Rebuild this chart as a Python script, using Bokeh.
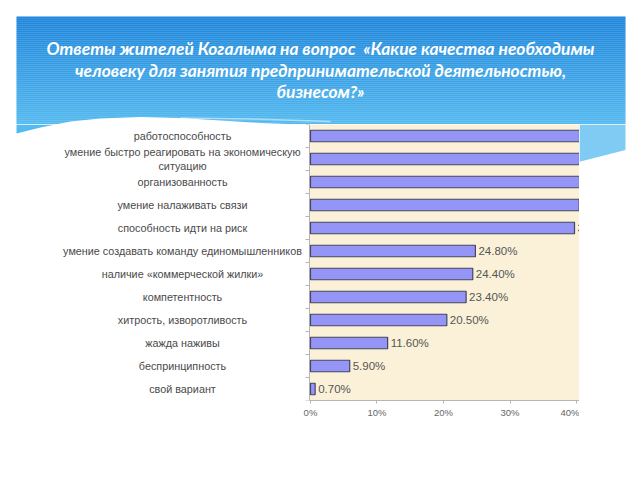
import numpy as np
from bokeh.plotting import figure
from bokeh.layouts import column, row
from bokeh.models import Range1d, FixedTicker
from bokeh.core.properties import value
from bokeh.embed import file_html
from bokeh.resources import INLINE

# ---- data ----
categories = [
    "работоспособность",
    "умение быстро реагировать на экономическую\nситуацию",
    "организованность",
    "умение налаживать связи",
    "способность идти на риск",
    "умение создавать команду единомышленников",
    "наличие «коммерческой жилки»",
    "компетентность",
    "хитрость, изворотливость",
    "жажда наживы",
    "беспринципность",
    "свой вариант",
]
values = [53.2, 45.8, 43.6, 40.4, 39.7, 24.8, 24.4, 23.4, 20.5, 11.6, 5.9, 0.7]
x_ticks = [0, 10, 20, 30, 40]
x_tick_labels = ["0%", "10%", "20%", "30%", "40%"]
title_lines = [
    "Ответы жителей Когалыма на вопрос\u00a0 «Какие качества необходимы",
    "человеку для занятия предпринимательской деятельностью,",
    "бизнесом?»",
]

n = len(categories)
ypos = [n - 1 - i + 0.5 for i in range(n)]

TOP = 124          # pixel row where the chart area starts
ROW_PX = 23        # pixel height of one category row
PX_PER_PCT = 6.65  # horizontal scale of the chart
X_END = 40.45      # the pasted chart picture is cut off here
X_START = -1.05    # a little room left of 0 for the axis ticks
AX_X = -0.15       # where the vertical axis line sits
LABEL_OFF = 3      # px gap between bar end and its value label


def bare(fig):
    fig.grid.visible = False
    fig.outline_line_color = None
    fig.background_fill_color = "white"
    fig.border_fill_color = "white"
    return fig


# ---- header ----
hdr = figure(width=640, height=TOP, x_range=Range1d(0, 640), y_range=Range1d(TOP, 0),
             output_backend="svg", toolbar_location=None, min_border=0,
             x_axis_location=None, y_axis_location=None)
bare(hdr)
top_c = np.array([30, 134, 219])
bot_c = np.array([84, 186, 240])
band_y = np.arange(16, TOP, 2)
cols = []
for yy in band_y:
    t = (yy - 16) / (TOP - 16)
    c = (top_c * (1 - t) + bot_c * t).astype(int)
    cols.append("#%02x%02x%02x" % tuple(c))
hdr.quad(left=16, right=625, top=band_y, bottom=band_y + 2.2, color=cols, line_color=None)
hdr.patch(x=[40, 40, 55, 70, 100, 140, 180, 220, 260, 300, 305, 305],
          y=[140, 127, 124, 121, 118, 116.5, 117.5, 120, 122.5, 124, 124, 140],
          color="white", line_color=None)
hdr.line(x=[180, 250, 330], y=[117.5, 118.5, 121], line_color="white", line_alpha=0.5, line_width=1.5)
hdr.text(x=[320] * len(title_lines), y=[48, 69.5, 91], text=title_lines,
         text_align="center", text_baseline="middle", text_color="white",
         text_font=value("Lato"), text_font_style="bold italic", text_font_size="17.4px")

yr = Range1d(0, n)


def py_to_y(py):
    return n - (np.asarray(py, dtype=float) - TOP) / ROW_PX


# ---- category labels ----
LAB_W = 303
lab = figure(width=LAB_W, height=356, x_range=Range1d(0, LAB_W), y_range=yr,
             output_backend="svg", toolbar_location=None,
             min_border_left=0, min_border_right=0, min_border_top=0, min_border_bottom=80,
             x_axis_location=None, y_axis_location=None)
bare(lab)
lab.patch(x=[16, 16, 28, 40, 55], y=py_to_y([TOP, 133, 130, 127, TOP]),
          color="#54BAF0", line_color=None)
lab.text(x=[182] * n, y=ypos, text=categories, text_align="center", text_baseline="middle",
         text_color="#4a4a4a", text_font=value("Liberation Sans"), text_font_size="10.8px",
         text_line_height=1.15)

# ---- chart ----
ch_w = int(round((X_END - X_START) * PX_PER_PCT))
ch = figure(width=ch_w, height=356, x_range=Range1d(X_START, X_END), y_range=yr,
            output_backend="svg", toolbar_location=None, y_axis_location=None,
            min_border_left=0, min_border_right=0, min_border_top=0, min_border_bottom=80)
bare(ch)
ch.quad(left=AX_X, right=X_END, bottom=0, top=n, color="#FAF1D8", line_color=None)
ch.segment(x0=AX_X, x1=AX_X, y0=0, y1=n, line_color="#b5b5b5", line_width=1)
tick_y = list(range(n + 1))
ch.segment(x0=AX_X - 4 / PX_PER_PCT, x1=AX_X, y0=tick_y, y1=tick_y, line_color="#b5b5b5", line_width=1)

ch.hbar(y=ypos, right=values, left=0, height=0.5, fill_color="#9595F7",
        line_color="#45455F", line_width=1.2)
# value labels that start inside the visible (cut) picture
shown = [i for i, v in enumerate(values) if v + LABEL_OFF / PX_PER_PCT < X_END]
ch.text(x=[values[i] for i in shown], y=[ypos[i] for i in shown],
        text=[f"{values[i]:.2f}%" for i in shown], x_offset=LABEL_OFF, text_align="left",
        text_baseline="middle", text_color="#555555", text_font=value("Liberation Sans"),
        text_font_size="11.5px")

xa = ch.xaxis[0]
xa.bounds = (AX_X, X_END)
xa.ticker = FixedTicker(ticks=x_ticks)
xa.major_label_overrides = {t: l for t, l in zip(x_ticks, x_tick_labels)}
xa.axis_line_color = "#b5b5b5"
xa.major_tick_line_color = "#b5b5b5"
xa.major_tick_out = 3
xa.major_tick_in = 0
xa.minor_tick_line_color = None
xa.major_label_text_font = "Liberation Sans"
xa.major_label_text_font_size = "9.5px"
xa.major_label_text_color = "#666666"
xa.major_label_standoff = 3

# ---- right filler ----
rt_w = 640 - LAB_W - ch_w
rt = figure(width=rt_w, height=356, x_range=Range1d(640 - rt_w, 640), y_range=Range1d(480, TOP),
            output_backend="svg", toolbar_location=None, min_border=0,
            x_axis_location=None, y_axis_location=None)
bare(rt)
rt.patch(x=[579, 625, 625, 579], y=[TOP, TOP, 157, 172], color="#80CBF3", line_color=None)

layout = column(hdr, row(lab, ch, rt))
open("out.html", "w").write(file_html(layout, INLINE))
